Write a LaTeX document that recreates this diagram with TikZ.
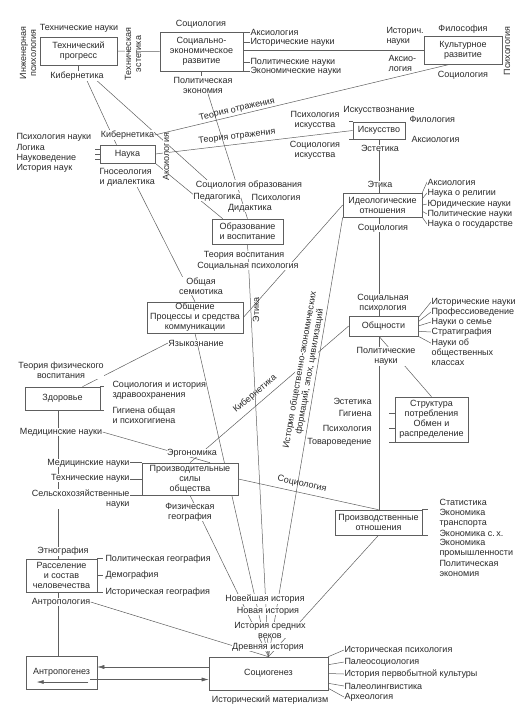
\documentclass[tikz,border=0pt]{standalone}
\usepackage{fontspec}
\setmainfont{Liberation Sans}
\usetikzlibrary{arrows.meta,backgrounds}
\definecolor{ink}{HTML}{2A2A2A}
\definecolor{wire}{HTML}{5E5E5E}
\tikzset{
  unit/.style={draw=wire, fill=white, align=center, inner sep=1pt, line width=0.6pt},
  lbl/.style={fill=white, inner sep=0.3pt, align=center},
  lbw/.style={lbl, anchor=west, align=left},
  lbe/.style={lbl, anchor=east, align=right},
  link/.style={draw=wire, line width=0.5pt},
  arr/.style={link, -{Latex[length=7pt,width=4pt]}}
}
\begin{document}
\begin{tikzpicture}[x=1pt,y=-1pt, every node/.style={font=\fontsize{9}{10}\selectfont, text=ink}]
\useasboundingbox (0,0) rectangle (529,712);
% boxes
\node[unit, minimum width=77pt, minimum height=28pt] (tp) at (78.5,51) {Технический\\прогресс};
\node[unit, minimum width=83pt, minimum height=39pt] (sed) at (201.5,51.5) {Социально-\\экономическое\\развитие};
\node[unit, minimum width=78pt, minimum height=28pt] (cult) at (463,50) {Культурное\\развитие};
\node[unit, minimum width=55pt, minimum height=18pt] (sci) at (127.5,154) {Наука};
\node[unit, minimum width=52pt, minimum height=17pt] (art) at (379,130.5) {Искусство};
\node[unit, minimum width=71pt, minimum height=25pt] (edu) at (247.5,231.5) {Образование\\и воспитание};
\node[unit, minimum width=79pt, minimum height=24pt] (ideo) at (382.5,205) {Идеологические\\отношения};
\node[unit, minimum width=96pt, minimum height=31pt] (comm) at (195,317.5) {Общение\\Процессы и средства\\коммуникации};
\node[unit, minimum width=69pt, minimum height=20pt] (comty) at (383.5,326) {Общности};
\node[unit, minimum width=75pt, minimum height=23pt] (health) at (62.5,398.5) {Здоровье};
\node[unit, minimum width=73pt, minimum height=45pt] (cons) at (431.5,419.5) {Структура\\потребления\\Обмен и\\распределение};
\node[unit, minimum width=96pt, minimum height=32pt] (prod) at (190,479) {Производительные\\силы\\общества};
\node[unit, minimum width=87pt, minimum height=25pt] (rel) at (378.5,522.5) {Производственные\\отношения};
\node[unit, minimum width=71pt, minimum height=33pt] (settle) at (61.5,575.5) {Расселение\\и состав\\человечества};
\node[unit, minimum width=71pt, minimum height=33pt] (anthr) at (61.5,672.5) {\raisebox{3pt}{Антропогенез}};
\node[unit, minimum width=119pt, minimum height=33pt] (socg) at (268.5,673.5) {Социогенез};
% technical progress
\node[lbl] (l_tn) at (79,28) {Технические науки};
\node[lbl, rotate=90] (l_ip) at (28,53) {Инженерная\\психология};
\node[lbl] (l_kib1) at (77,76) {Кибернетика};
\node[lbl, rotate=90] (l_te) at (133,54) {Техническая\\эстетика};
% social-economic
\node[lbl] (l_soc1) at (201,24) {Социология};
\node[lbw] (l_ax1) at (250,32) {Аксиология};
\node[lbw] (l_hist1) at (250,42) {Исторические науки};
\node[lbw] (l_pol1) at (250,62) {Политические науки};
\node[lbw] (l_eco1) at (250,71) {Экономические науки};
\node[lbl] (l_pe) at (203,85) {Политическая\\экономия};
% culture
\node[lbl] (l_phil) at (463,29) {Философия};
\node[lbw] (l_hn2) at (386,36.5) {Историч.\\науки};
\node[lbw] (l_axl) at (388,63.5) {Аксио-\\логия};
\node[lbl] (l_soc2) at (463,75) {Социология};
\node[lbl, rotate=90] (l_psy1) at (507,51) {Психология};
% science
\node[lbl] (l_kib2) at (127.5,135) {Кибернетика};
\node[lbw] (l_psn) at (16,137) {Психология науки};
\node[lbw] (l_log) at (16,147) {Логика};
\node[lbw] (l_nv) at (16,158) {Науковедение};
\node[lbw] (l_hsc) at (16,168.5) {История наук};
\node[lbw] (l_gno) at (99,177.5) {Гносеология\\и диалектика};
\node[lbl, rotate=90] (l_ax2) at (166,157) {Аксиология};
\node[lbl, rotate=13, fill=none] (l_to1) at (237,109.5) {Теория отражения};
\node[lbl, rotate=7, fill=none] (l_to2) at (237,136.5) {Теория отражения};
% art
\node[lbl] (l_psart) at (315,120) {Психология\\искусства};
\node[lbl] (l_soart) at (315,150) {Социология\\искусства};
\node[lbl] (l_artk) at (379,110) {Искусствознание};
\node[lbw] (l_filo) at (409,119) {Филология};
\node[lbw] (l_ax3) at (411,139) {Аксиология};
\node[lbl] (l_est1) at (380,148) {Эстетика};
% education
\node[lbl] (l_soced) at (249,185) {Социология образования};
\node[lbl] (l_ped) at (217,197) {Педагогика};
\node[lbl] (l_psy2) at (276,197) {Психология};
\node[lbl] (l_did) at (250,208) {Дидактика};
\node[lbl] (l_tv) at (244,255) {Теория воспитания};
\node[lbl] (l_sp) at (248,266) {Социальная психология};
% ideology
\node[lbl] (l_eth1) at (380,184) {Этика};
\node[lbw] (l_ax4) at (427,182) {Аксиология};
\node[lbw] (l_rlg) at (427,193) {Наука о религии};
\node[lbw] (l_jur) at (427,204) {Юридические науки};
\node[lbw] (l_pol2) at (427,214) {Политические науки};
\node[lbw] (l_state) at (427,224) {Наука о государстве};
\node[lbl] (l_soc3) at (383,228) {Социология};
% communities
\node[lbl] (l_sps) at (383,302) {Социальная\\психология};
\node[lbw] (l_hist2) at (431,302) {Исторические науки};
\node[lbw] (l_prof) at (431,312) {Профессиоведение};
\node[lbw] (l_fam) at (431,322) {Науки о семье};
\node[lbw] (l_strat) at (431,332) {Стратиграфия};
\node[lbw] (l_cls) at (431,352) {Науки об\\общественных\\классах};
\node[lbl] (l_pol3) at (386,356.5) {Политические\\науки};
% communication
\node[lbl] (l_sem) at (201,286) {Общая\\семиотика};
\node[lbl] (l_lang) at (196,343) {Языкознание};
\node[lbl, rotate=90, fill=none] (l_eth2) at (256,310) {Этика};
% health
\node[lbl] (l_tfv) at (61,370) {Теория физического\\воспитания};
\node[lbw] (l_sih) at (112,390) {Социология и история\\здравоохранения};
\node[lbw] (l_hyg) at (112,415) {Гигиена общая\\и психогигиена};
\node[lbl] (l_med1) at (61,432) {Медицинские науки};
% productive forces
\node[lbe] (l_med2) at (130,463) {Медицинские науки};
\node[lbe] (l_tech) at (130,478) {Технические науки};
\node[lbe] (l_agr) at (130,499) {Сельскохозяйственные\\науки};
\node[lbl] (l_erg) at (192,453) {Эргономика};
\node[lbl, rotate=40, fill=none] (l_kib3) at (255,394) {Кибернетика};
\node[lbl] (l_phg) at (190,512) {Физическая\\география};
\node[lbl, rotate=-13, fill=none] (l_soc4) at (302,484) {Социология};
\node[lbl, rotate=80] (l_hof) at (305,371) {История общественно-экономических\\формаций, эпох, цивилизаций};
% consumption
\node[lbe] (l_est2) at (372,401) {Эстетика};
\node[lbe] (l_hyg2) at (372,413) {Гигиена};
\node[lbe] (l_psy3) at (372,428) {Психология};
\node[lbe] (l_tov) at (372,442) {Товароведение};
% relations
\node[lbw] (l_stat) at (439,502) {Статистика};
\node[lbw] (l_ectr) at (439,518) {Экономика\\транспорта};
\node[lbw] (l_ecag) at (439,533) {Экономика с.\,х.};
\node[lbw] (l_ecind) at (439,548) {Экономика\\промышленности};
\node[lbw] (l_pe2) at (439,568) {Политическая\\экономия};
% settlement
\node[lbl] (l_ethn) at (63,551) {Этнография};
\node[lbw] (l_polg) at (105,559) {Политическая география};
\node[lbw] (l_dem) at (105,575) {Демография};
\node[lbw] (l_histg) at (105,592) {Историческая география};
\node[lbl] (l_anth) at (61,602) {Антропология};
% history
\node[lbl] (l_h1) at (265,599) {Новейшая история};
\node[lbl] (l_h2) at (268,611) {Новая история};
\node[lbl] (l_h3) at (270,630) {История средних\\веков};
\node[lbl] (l_h4) at (268,647) {Древняя история};
% sociogenesis
\node[lbw] (l_hpsy) at (344,650) {Историческая психология};
\node[lbw] (l_pals) at (344,662) {Палеосоциология};
\node[lbw] (l_hpc) at (344,674) {История первобытной культуры};
\node[lbw] (l_pall) at (344,686) {Палеолингвистика};
\node[lbw] (l_arch) at (344,697) {Археология};
\node[lbl] (l_hm) at (270,700) {Исторический материализм};
% arrows between the two geneses
\draw[arr] ([yshift=6.5pt]socg.west) -- ([yshift=6.5pt]socg.west -| anthr.east);
\draw[arr] ([shift={(-7pt,-7pt)}]anthr.east) -- ([yshift=-7pt]anthr.east -| socg.west);
\draw[arr] ([shift={(-9pt,-9.5pt)}]anthr.east) -- ([shift={(11pt,-9.5pt)}]anthr.west);

\begin{pgfonlayer}{background}
% upper row
\draw[link] (tp.east) -- (sed.west);
\draw[link] (tp.south) -- (tp.south |- l_kib1.north);
\draw[link] (sed.east |- cult.west) -- (cult.west);
\foreach \t in {l_ax1,l_hist1,l_pol1,l_eco1}
  \draw[link] (sed.east |- \t.west) -- (\t.west);
\draw[link] (sed.south) -- (sed.south |- l_pe.north);
% science
\draw[link] ([xshift=10pt]l_kib1.south) -- ([xshift=-11pt]sci.north);
\draw[link] ([xshift=20pt]l_kib1.south) -- ([xshift=12pt]l_soced.north west);
\draw[link] (l_kib2.east) -- ([xshift=-13pt]cult.south);
\draw[link] (sci.east) -- (art.west);
\draw[link] (sci.south east) -- ([xshift=11pt]edu.north west);
\draw[link] ([xshift=5pt]l_pe.south) -- (edu.north);
\draw[link] ([xshift=10pt]l_gno.south) -- (comm.north);
\foreach \d in {-5,0,5}
  \draw[link] ([yshift=\d pt]sci.west) -- ++(-5,0);
% art and ideology
\draw[link] (art.north west) -- ++(-4,0);
\draw[link] (art.south west) -- ++(-4,0);
\draw[link] (art.south) -- (art.south |- ideo.north);
\draw[link] (ideo.north east) -- (l_ax4.west);
\draw[link] ([yshift=-6pt]ideo.north east) -- (l_rlg.west);
\draw[link] (ideo.east) -- (l_jur.west);
\draw[link] ([yshift=6pt]ideo.south east) -- (l_pol2.west);
\draw[link] (ideo.south east) -- (l_state.west);
\draw[link] (ideo.west) -- (comm.east);
\draw[link] (ideo.south -| art.south) -- (comty.north -| art.south);
\draw[link] (edu.south) -- (socg.north);
\draw[link] (ideo.south west) -- (socg.north);
% communities
\draw[link] ([yshift=-2pt]comty.north east) -- (l_hist2.west);
\draw[link] ([yshift=-6pt]comty.north east) -- (l_prof.west);
\draw[link] (comty.east) -- (l_fam.west);
\draw[link] ([yshift=5pt]comty.south east) -- (l_strat.west);
\draw[link] (comty.south east) -- ([yshift=-5pt]l_cls.north west);
\draw[link] (comty.south -| art.south) -- (rel.north -| art.south);
\draw[link] (comty.south -| art.south) -- (cons.north);
\draw[link] (cons.west |- l_hyg2) -- ++(-6,0);
\draw[link] (cons.west |- l_psy3) -- ++(-6,0);
\draw[link] (cons.south west) -- ++(-6,0);
% communication, health, production
\draw[link] (comm.south) -- (socg.north);
\draw[link] (l_lang.west) -- ([xshift=20pt]health.north);
\draw[link] (health.north east) -- ++(4,0);
\draw[link] (health.south east) -- ++(4,0);
\draw[link] ([xshift=-4pt]health.south) -- ([xshift=-4pt]health.south |- settle.north);
\draw[link] (l_med1.east) -- ([xshift=20pt]prod.north);
\draw[link] (prod.north west) -- (prod.north west -| l_med2.east);
\draw[link] (prod.west) -- (prod.west -| l_tech.east);
\draw[link] (prod.south west) -- (prod.south west -| l_agr.east);
\draw[link] (prod.north) -- (comty.west);
\draw[link] (prod.east) -- (rel.north);
\draw[link] (prod.south) -- (socg.north);
\draw[link] (rel.north east) -- ++(6,0);
\draw[link] (rel.south east) -- ++(6,0);
\draw[link] (rel.south) -- (socg.north);
% settlement and genesis
\draw[link] (settle.north east) -- ++(6,0);
\draw[link] (settle.east) -- ++(6,0);
\draw[link] (settle.south east) -- ++(6,0);
\draw[link] ([xshift=-3.5pt]settle.south) -- ([xshift=-3.5pt]settle.south |- anthr.north);
\draw[link] (l_anth.east) -- (socg.north);
\draw[link] (socg.north east) -- (l_hpsy.west);
\draw[link] ([yshift=-8pt]socg.north east) -- (l_pals.west);
\draw[link] (socg.east) -- (l_hpc.west);
\draw[link] ([yshift=7pt]socg.south east) -- (l_pall.west);
\draw[link] ([yshift=2pt]socg.south east) -- (l_arch.west);
\end{pgfonlayer}
\end{tikzpicture}
\end{document}
